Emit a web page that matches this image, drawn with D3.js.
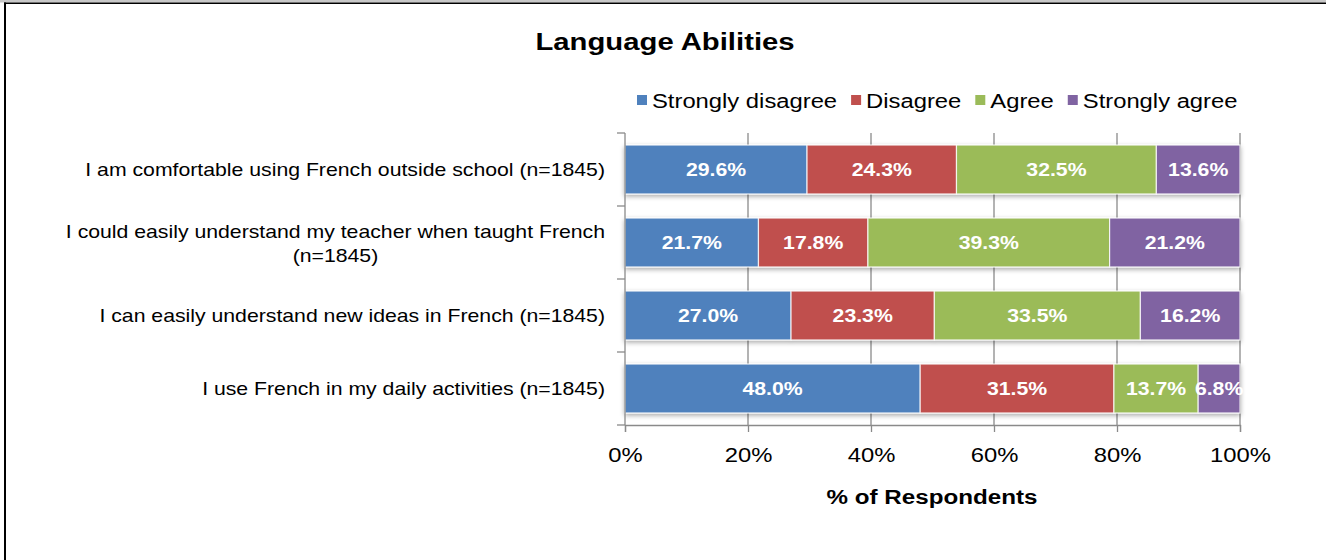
<!DOCTYPE html>
<html><head><meta charset="utf-8">
<script src="https://cdn.jsdelivr.net/npm/d3@7"></script>
<style>
html,body{margin:0;padding:0;background:#fff;}
svg{display:block;font-family:"Liberation Sans",Arial,sans-serif;}
</style></head>
<body>
<svg id="chart" width="1326" height="560"></svg>
<script>
const title = "Language Abilities";
const categories = [
  ["I am comfortable using French outside school (n=1845)"],
  ["I could easily understand my teacher when taught French", "(n=1845)"],
  ["I can easily understand new ideas in French (n=1845)"],
  ["I use French in my daily activities (n=1845)"]
];
const seriesNames = ["Strongly disagree", "Disagree", "Agree", "Strongly agree"];
const seriesColors = ["#4F81BD", "#C0504D", "#9BBB59", "#8064A2"];
const stronglyDisagree = [29.6, 21.7, 27.0, 48.0];
const disagree = [24.3, 17.8, 23.3, 31.5];
const agree = [32.5, 39.3, 33.5, 13.7];
const stronglyAgree = [13.6, 21.2, 16.2, 6.8];
const tickValues = [0, 20, 40, 60, 80, 100];
const xTitle = "% of Respondents";

const series = [stronglyDisagree, disagree, agree, stronglyAgree];
const svg = d3.select("#chart");
const SX = 1.2;

function txt(parent, x, y, str, size, anchor, weight, fill, sx){
  const g = parent.append("g").attr("transform",`translate(${x},${y}) scale(${sx||SX},1)`);
  const t = g.append("text").attr("x",0).attr("y",0).attr("text-anchor",anchor||"start")
    .attr("font-size",size).attr("font-weight",weight||"normal").attr("fill",fill||"#000").text(str);
  return t.node().getComputedTextLength()*(sx||SX);
}

// frame
svg.append("rect").attr("x",0).attr("y",0).attr("width",1326).attr("height",2.5).attr("fill","#c8c8c8");
svg.append("line").attr("x1",4).attr("x2",1326).attr("y1",3.2).attr("y2",3.2).attr("stroke","#000").attr("stroke-width",1.6);
svg.append("line").attr("x1",5).attr("x2",5).attr("y1",2.5).attr("y2",560).attr("stroke","#000").attr("stroke-width",2);

const L = 625, R = 1240, T = 133, B = 425;
const x = d3.scaleLinear().domain([0,100]).range([L,R]);
const y = d3.scaleBand().domain(d3.range(categories.length)).range([T,B]).paddingInner(0.33).paddingOuter(0.165);

// title
txt(svg, 665, 50, title, 24, "middle", "bold", "#000", 1.22);

// gridlines
svg.append("g").selectAll("line").data(tickValues.slice(1)).join("line")
  .attr("x1",d=>x(d)).attr("x2",d=>x(d)).attr("y1",T).attr("y2",B)
  .attr("stroke","#8a8a8a").attr("stroke-width",1.3);

// shadow filter
const defs = svg.append("defs");
const f = defs.append("filter").attr("id","sh").attr("x","-5%").attr("y","-20%").attr("width","110%").attr("height","150%");
f.append("feGaussianBlur").attr("in","SourceAlpha").attr("stdDeviation",2.5);
f.append("feOffset").attr("dx",0).attr("dy",2).attr("result","ob");
f.append("feComponentTransfer").append("feFuncA").attr("type","linear").attr("slope",0.35);
const fm = f.append("feMerge"); fm.append("feMergeNode"); fm.append("feMergeNode").attr("in","SourceGraphic");

// bars
const gBars = svg.append("g");
categories.forEach((c,i)=>{
  let cum = 0;
  const row = gBars.append("g").attr("filter","url(#sh)");
  series.forEach((s,j)=>{
    const v = s[i];
    row.append("rect").attr("x",x(cum)).attr("y",y(i)).attr("width",x(cum+v)-x(cum)).attr("height",y.bandwidth())
      .attr("fill",seriesColors[j]).attr("stroke","#fff").attr("stroke-width",1.2).attr("stroke-opacity",0.8);
    cum += v;
  });
});
categories.forEach((c,i)=>{
  let cum = 0;
  series.forEach((s,j)=>{
    const v = s[i];
    txt(svg, (x(cum)+x(cum+v))/2, y(i)+y.bandwidth()/2+6.5, v.toFixed(1)+"%", 18, "middle", "bold", "#fff", 1.18);
    cum += v;
  });
});

// left axis
svg.append("line").attr("x1",L).attr("x2",L).attr("y1",T).attr("y2",B).attr("stroke","#8a8a8a").attr("stroke-width",1.3);
const bounds = d3.range(categories.length+1).map(k=>T + k*(B-T)/categories.length);
svg.append("g").selectAll("line").data(bounds).join("line")
  .attr("x1",L-8).attr("x2",L).attr("y1",d=>d).attr("y2",d=>d).attr("stroke","#8a8a8a").attr("stroke-width",1.3);

// bottom axis
const xAxis = d3.axisBottom(x).tickValues(tickValues).tickFormat(d=>d+"%").tickSize(7).tickPadding(14);
const gx = svg.append("g").attr("transform",`translate(0,${B})`).call(xAxis);
gx.select(".domain").attr("stroke","#8a8a8a").attr("stroke-width",1.3);
gx.selectAll(".tick line").attr("stroke","#8a8a8a").attr("stroke-width",1.3);
gx.selectAll(".tick text").attr("font-size",20).attr("fill","#000").attr("font-family","Liberation Sans, Arial, sans-serif")
  .attr("y",0).attr("dy",0)
  .attr("transform","translate(0,37) scale(1.19,1)");

// category labels
categories.forEach((lines,i)=>{
  const cy = y(i)+y.bandwidth()/2;
  if(lines.length===1){
    txt(svg, 605, cy+6.5, lines[0], 18, "end", "normal", "#000", 1.18);
  } else {
    const w = txt(svg, 605, cy-5, lines[0], 18, "end", "normal", "#000", 1.18);
    txt(svg, 605 - w/2, cy+19, lines[1], 18, "middle", "normal", "#000", 1.18);
  }
});

// x title
txt(svg, 932, 504, xTitle, 20, "middle", "bold", "#000", 1.21);

// legend
let lx = 637;
seriesNames.forEach((n,j)=>{
  svg.append("rect").attr("x",lx).attr("y",95).attr("width",10).attr("height",10).attr("fill",seriesColors[j]);
  const w = txt(svg, lx+15, 107.5, n, 20, "start", "normal", "#000", 1.19);
  lx += 15 + w + 14;
});
</script>
</body></html>
